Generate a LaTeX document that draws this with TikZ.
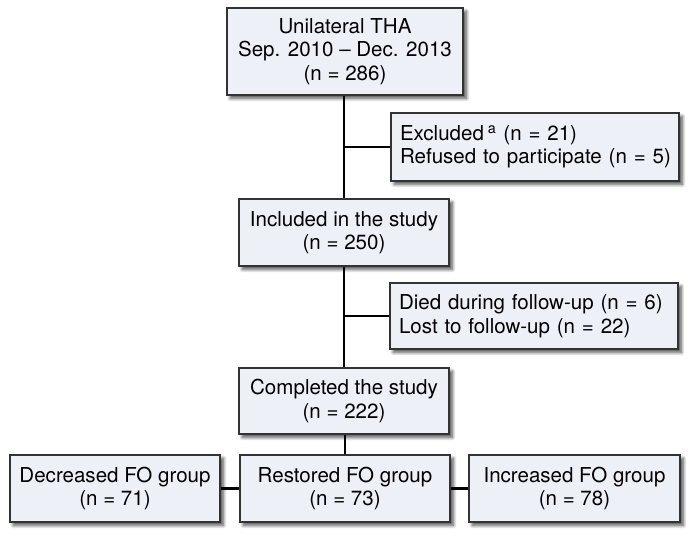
\documentclass[tikz,border=0pt]{standalone}
\usepackage{fontspec}
\setmainfont{TeX Gyre Heros}
\usetikzlibrary{shadows.blur}
\definecolor{boxfill}{HTML}{EEF0F8}
\definecolor{boxline}{HTML}{333333}
\begin{document}
\begin{tikzpicture}[x=0.75pt,y=-0.75pt,
  box/.style={draw=boxline,line width=1pt,fill=boxfill,rectangle,inner sep=0pt,
    font={\fontsize{15.4}{17.6}\selectfont},
    blur shadow={shadow xshift=2.5pt,shadow yshift=-2.5pt,shadow blur radius=2.5pt,shadow blur steps=8,shadow opacity=70}},
  cbox/.style={box,align=center},
  sidebox/.style={box,minimum width=288*0.75pt,align=left,text width=270*0.75pt},
  link/.style={line width=2.2pt,black}]
\useasboundingbox (0,0) rectangle (697,541);
\node[cbox,minimum width=236*0.75pt,minimum height=87*0.75pt] (top) at (345,51.5)
  {Unilateral THA\\Sep. 2010 – Dec. 2013\\(n = 286)};
\node[sidebox,minimum height=68*0.75pt] (excl) at (535,147)
  {\mbox{Excluded\hspace{3pt}\textsuperscript{a} (n = 21)}\\\mbox{Refused to participate (n = 5)}};
\node[cbox,minimum width=210*0.75pt,minimum height=67*0.75pt] (incl) at (344,232.5)
  {Included in the study\\(n = 250)};
\node[sidebox,minimum height=66*0.75pt] (died) at (534,316)
  {\mbox{Died during follow-up (n = 6)}\\\mbox{Lost to follow-up (n = 22)}};
\node[cbox,minimum width=210*0.75pt,minimum height=66*0.75pt] (comp) at (344,401)
  {Completed the study\\(n = 222)};
\node[cbox,minimum width=210*0.75pt,minimum height=67*0.75pt] (dec) at (115,488.5)
  {Decreased FO group\\(n = 71)};
\node[cbox,minimum width=210*0.75pt,minimum height=67*0.75pt] (res) at (345,488.5)
  {Restored FO group\\(n = 73)};
\node[cbox,minimum width=211*0.75pt,minimum height=67*0.75pt] (inc) at (574.5,488.5)
  {Increased FO group\\(n = 78)};
\draw[link] (top.south -| incl.north) -- (incl.north);
\draw[link] (incl.south) -- (comp.north);
\draw[link] (comp.south -| res.north) -- (res.north);
\draw[link] (excl.west -| incl.north) -- (excl.west);
\draw[link] (died.west -| incl.north) -- (died.west);
\draw[link] (dec.east) -- (res.west);
\draw[link] (res.east) -- (inc.west);
\end{tikzpicture}
\end{document}
